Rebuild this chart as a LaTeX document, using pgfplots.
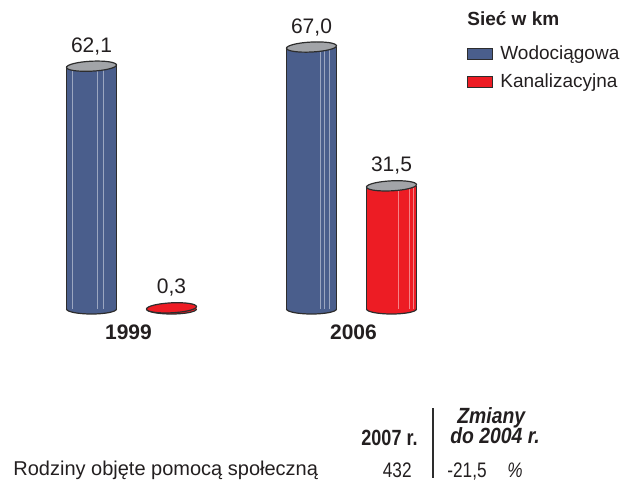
\documentclass[border=0pt]{standalone}
\usepackage{pgfplots}
\pgfplotsset{compat=1.18}
\usepackage{fontspec}
\setmainfont{Liberation Sans}
\usepackage{graphicx}
\definecolor{blueC}{RGB}{74,94,140}
\definecolor{redC}{RGB}{237,28,36}
\definecolor{capC}{RGB}{162,164,168}
\definecolor{outl}{RGB}{45,45,45}
\definecolor{txt}{RGB}{35,31,32}
% top cap: slightly tilted ellipse
\pgfdeclareplotmark{cyl}{\pgfpathellipse{\pgfpointorigin}{\pgfqpoint{12.5pt}{0.6pt}}{\pgfqpoint{0pt}{2.5pt}}\pgfusepathqfillstroke}
% bottom: lower half of an ellipse
\pgfdeclareplotmark{cylbot}{%
  \pgfpathmoveto{\pgfqpoint{-12.5pt}{0pt}}%
  \pgfpatharc{180}{360}{12.5pt and 2.5pt}%
  \pgfusepathqfillstroke}
\newcommand{\nar}[1]{\scalebox{0.82}[1]{#1}}
\newcommand{\narb}[1]{\scalebox{0.88}[1]{#1}}
\begin{document}
\begin{tikzpicture}
\useasboundingbox (0,0) rectangle (316.5pt,242pt);
\begin{axis}[
  at={(8.25pt,87.5pt)}, anchor=south west,
  scale only axis, width=225pt, height=136.85pt,
  xmin=-1.5, xmax=7.5, ymin=0, ymax=70,
  clip=false,
  axis x line=bottom, axis y line=none,
  axis line style={draw=none},
  major tick length=0pt,
  ytick=\empty,
  xtick={0.74,5.24}, xticklabels={1999,2006},
  xticklabel style={font=\fontsize{10.5}{12}\selectfont\bfseries, text=txt, anchor=north, inner sep=0pt, yshift=-7.5pt},
  /pgf/number format/use comma,
  /pgf/number format/fixed,
  /pgf/number format/fixed zerofill,
  /pgf/number format/precision=1,
  /pgf/number format/assume math mode=true,
  legend image code/.code={\draw[#1] (0pt,-2.75pt) rectangle (12.5pt,2.75pt);},
  legend style={at={(1.001,0.965)}, anchor=north west, draw=none, fill=none, inner sep=0pt,
    row sep=6pt, column sep=3.5pt, font=\fontsize{9.5}{11}\selectfont, text=txt,
    nodes={inner sep=0pt, anchor=west}},
  legend cell align=left,
]
% bottom half-ellipses
\addplot[only marks, mark=cylbot, mark options={fill=blueC, draw=outl, line width=0.6pt}, forget plot] coordinates {(0,0) (4.4,0)};
\addplot[only marks, mark=cylbot, mark options={fill=redC, draw=outl, line width=0.6pt}, forget plot] coordinates {(1.6,0) (6.0,0)};
% bodies
\addplot[ybar, bar shift=0pt, bar width=1, fill=blueC, draw=none, forget plot] coordinates {(0,62.1) (4.4,67.0)};
\addplot[ybar, bar shift=0pt, bar width=1, fill=redC, draw=none, forget plot] coordinates {(1.6,0.3) (6.0,31.5)};
% light stripes
\addplot[ycomb, mark=none, draw=blueC!55!white, line width=0.35pt, forget plot] coordinates {(-0.39,62.1) (0.11,62.1) (0.23,62.1) (4.57,67.0) (4.66,67.0) (4.76,67.0)};
\addplot[ycomb, mark=none, draw=redC!55!white, line width=0.35pt, forget plot] coordinates {(6.13,31.5) (6.36,31.5) (6.43,31.5)};
% sides
\addplot[ycomb, mark=none, draw=outl, line width=0.6pt, forget plot] coordinates {(-0.5,62.1) (0.5,62.1) (3.9,67.0) (4.9,67.0) (5.5,31.5) (6.5,31.5)};
% top caps with values
\addplot[only marks, mark=cyl, mark options={fill=capC, draw=outl, line width=0.6pt}, forget plot,
  point meta=y, nodes near coords,
  nodes near coords style={font=\fontsize{10.5}{12}\selectfont, text=txt, anchor=base, inner sep=0pt, yshift=7pt}]
  coordinates {(0,62.1) (4.4,67.0) (6.0,31.5)};
\addplot[only marks, mark=cyl, mark options={fill=redC, draw=outl, line width=0.6pt}, forget plot,
  point meta=y, nodes near coords,
  nodes near coords style={font=\fontsize{10.5}{12}\selectfont, text=txt, anchor=base, inner sep=0pt, yshift=7pt}]
  coordinates {(1.6,0.3)};
\addlegendimage{fill=blueC, draw=outl, line width=0.5pt}
\addlegendentry{Wodociągowa}
\addlegendimage{fill=redC, draw=outl, line width=0.5pt}
\addlegendentry{Kanalizacyjna}
\end{axis}
\node[anchor=base west, inner sep=0pt, text=txt, font=\fontsize{9.5}{11}\selectfont\bfseries] at (233.5pt,229.5pt) {Sieć w km};
% table below
\node[anchor=base west, inner sep=0pt, text=txt, font=\fontsize{10}{12}\selectfont] at (6.5pt,4.5pt) {Rodziny objęte pomocą społeczną};
\node[anchor=base east, inner sep=0pt, text=txt, font=\fontsize{11}{13}\selectfont\bfseries] at (209pt,19.5pt) {\nar{2007 r.}};
\node[anchor=base west, inner sep=0pt, text=txt, font=\fontsize{11}{13}\selectfont\bfseries\itshape] at (228.5pt,30.5pt) {\narb{Zmiany}};
\node[anchor=base west, inner sep=0pt, text=txt, font=\fontsize{11}{13}\selectfont\bfseries\itshape] at (225pt,20.5pt) {\narb{do 2004 r.}};
\draw[outl, line width=0.6pt] (216.5pt,38pt) -- (216.5pt,3pt);
\node[anchor=base east, inner sep=0pt, text=txt, font=\fontsize{10.5}{12}\selectfont] at (206pt,3.5pt) {\nar{432}};
\node[anchor=base west, inner sep=0pt, text=txt, font=\fontsize{10.5}{12}\selectfont] at (223.5pt,3.5pt) {\nar{-21,5}};
\node[anchor=base west, inner sep=0pt, text=txt, font=\fontsize{10.5}{12}\selectfont\itshape] at (253.5pt,3.5pt) {\nar{\%}};
\end{tikzpicture}
\end{document}
